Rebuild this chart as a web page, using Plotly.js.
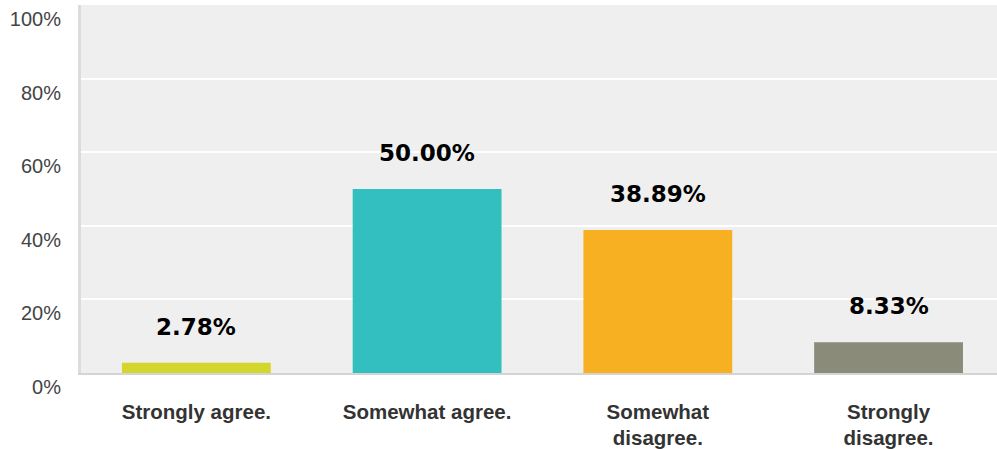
<!DOCTYPE html>
<html>
<head>
<meta charset="utf-8">
<script src="https://cdn.plot.ly/plotly-3.0.1.min.js"></script>
<style>html,body{margin:0;padding:0;background:#fff;}#chart{width:997px;height:449px;}</style>
</head>
<body>
<div id="chart"></div>
<script>
const categories = ["Strongly agree.", "Somewhat agree.", "Somewhat<br>disagree.", "Strongly<br>disagree."];
const values = [2.78, 50.00, 38.89, 8.33];
const valueLabels = ["2.78%", "50.00%", "38.89%", "8.33%"];
const barColors = ["#d3d62c", "#33bec0", "#f6b021", "#8a8b78"];
const yTickValues = [0, 20, 40, 60, 80, 100];
const yTickLabels = ["0%", "20%", "40%", "60%", "80%", "100%"];

const trace = {
  type: "bar",
  x: categories,
  y: values,
  marker: {color: barColors},
  hoverinfo: "none"
};

const annotations = categories.map((c, i) => ({
  x: c, y: values[i], text: valueLabels[i], showarrow: false,
  xref: "x", yref: "y", yanchor: "bottom", yshift: 21,
  font: {family: "DejaVu Sans", size: 23, color: "#000", weight: "bold"}
}));

const layout = {
  width: 997, height: 449,
  margin: {l: 81, r: 0, t: 5, b: 76},
  paper_bgcolor: "#ffffff",
  plot_bgcolor: "#efefef",
  bargap: 0.355,
  showlegend: false,
  xaxis: {
    type: "category",
    range: [-0.5, 3.47],
    showline: true, linecolor: "#d4d4d4", linewidth: 2,
    showgrid: false, zeroline: false,
    ticks: "outside", ticklen: 19, tickcolor: "rgba(0,0,0,0)",
    tickfont: {family: "Liberation Sans, Arial, sans-serif", size: 20.5, color: "#333", weight: "bold"}
  },
  yaxis: {
    range: [0, 100],
    tickvals: yTickValues, ticktext: yTickLabels,
    showgrid: true, gridcolor: "#ffffff", gridwidth: 2,
    zeroline: false,
    showline: true, linecolor: "#dcdcdc", linewidth: 3,
    ticks: "", ticklabelposition: "outside bottom", ticklabelstandoff: 13,
    tickfont: {family: "Liberation Sans, Arial, sans-serif", size: 20, color: "#444"}
  },
  annotations: annotations
};

Plotly.newPlot("chart", [trace], layout, {displayModeBar: false, staticPlot: true});
</script>
</body>
</html>
